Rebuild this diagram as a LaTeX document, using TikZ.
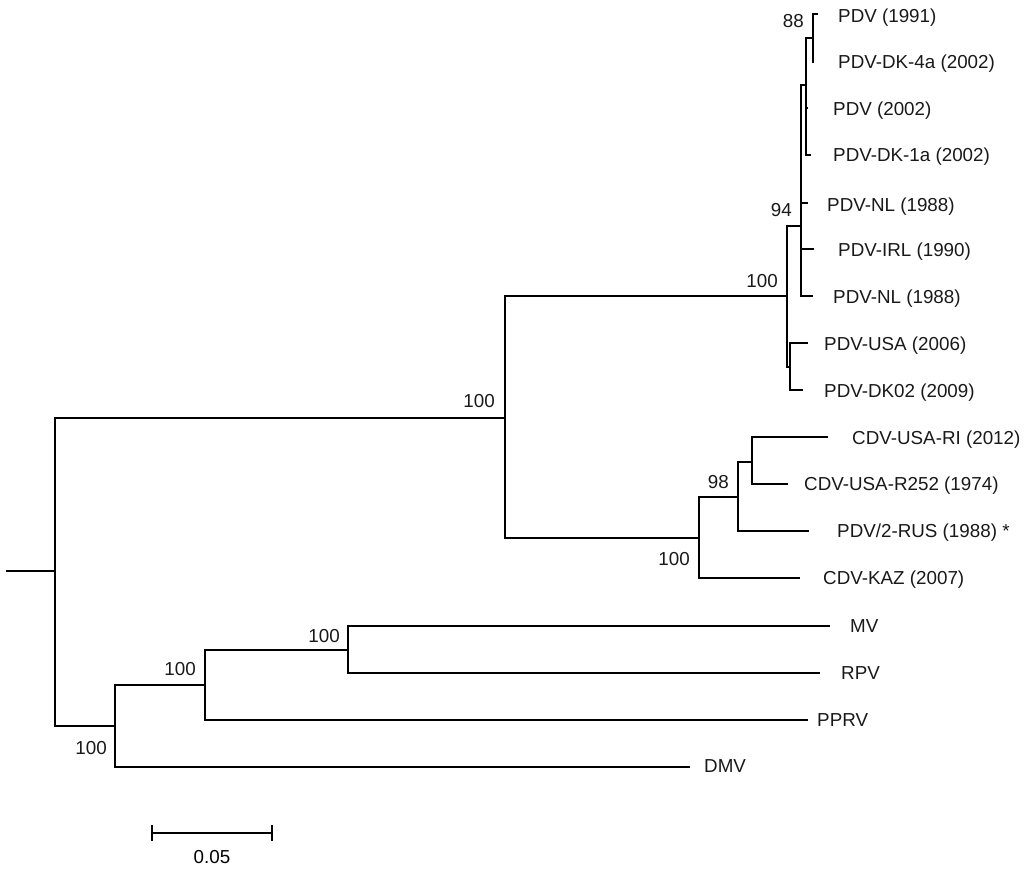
\documentclass[tikz,border=0pt]{standalone}
\usepackage{fontspec}
\setmainfont{Liberation Sans}
\begin{document}
\begin{tikzpicture}[x=1pt,y=-1pt,
  br/.style={line width=2.1pt, line join=miter, line cap=rect},
  tiplab/.style={anchor=base west, inner sep=0pt, font=\fontsize{18.8}{22}\selectfont, text=black!90},
  boot/.style={anchor=base east, inner sep=0pt, font=\fontsize{18.8}{22}\selectfont, text=black!90}]
\useasboundingbox (0,0) rectangle (1024,872);
% internal nodes
\coordinate (r0) at (7,571);
\coordinate (R) at (55,571);
\coordinate (U) at (505,418);
\coordinate (P100) at (787,296);
\coordinate (P94) at (801,226);
\coordinate (S) at (806,85);
\coordinate (P88) at (813,38);
\coordinate (PU) at (790,367);
\coordinate (C100) at (699,538);
\coordinate (C98) at (738,497);
\coordinate (CN) at (752,462);
\coordinate (M1) at (115,726);
\coordinate (M2) at (205,685);
\coordinate (M3) at (348,650);
% tips
\coordinate (t1) at (817,14);
\coordinate (t2) at (813,62);
\coordinate (t3) at (807,108);
\coordinate (t4) at (810,155);
\coordinate (t5) at (807,203);
\coordinate (t6) at (813,249);
\coordinate (t7) at (812,296);
\coordinate (t8) at (807,343);
\coordinate (t9) at (802,390);
\coordinate (t10) at (827,437);
\coordinate (t11) at (787,484);
\coordinate (t12) at (808,531);
\coordinate (t13) at (799,578);
\coordinate (t14) at (829,626);
\coordinate (t15) at (819,673);
\coordinate (t16) at (807,720);
\coordinate (t17) at (689,767);
% branches
\draw[br] (r0) -- (R);
\draw[br] (R) |- (U);
\draw[br] (R) |- (M1);
\draw[br] (U) |- (P100);
\draw[br] (U) |- (C100);
\draw[br] (P100) |- (P94);
\draw[br] (P100) |- (PU);
\draw[br] (P94) |- (S);
\draw[br] (P94) |- (t5);
\draw[br] (P94) |- (t6);
\draw[br] (P94) |- (t7);
\draw[br] (S) |- (P88);
\draw[br] (S) |- (t3);
\draw[br] (S) |- (t4);
\draw[br] (P88) |- (t1);
\draw[br] (P88) |- (t2);
\draw[br] (PU) |- (t8);
\draw[br] (PU) |- (t9);
\draw[br] (C100) |- (C98);
\draw[br] (C100) |- (t13);
\draw[br] (C98) |- (CN);
\draw[br] (C98) |- (t12);
\draw[br] (CN) |- (t10);
\draw[br] (CN) |- (t11);
\draw[br] (M1) |- (M2);
\draw[br] (M1) |- (t17);
\draw[br] (M2) |- (M3);
\draw[br] (M2) |- (t16);
\draw[br] (M3) |- (t14);
\draw[br] (M3) |- (t15);
% tip labels
\node[tiplab] (l1) at (838,23) {PDV (1991)};
\node[tiplab] (l2) at (838,69) {PDV-DK-4a (2002)};
\node[tiplab] (l3) at (833,116) {PDV (2002)};
\node[tiplab] (l4) at (833,161) {PDV-DK-1a (2002)};
\node[tiplab] (l5) at (827,211) {PDV-NL (1988)};
\node[tiplab] (l6) at (838,256) {PDV-IRL (1990)};
\node[tiplab] (l7) at (833,303) {PDV-NL (1988)};
\node[tiplab] (l8) at (824,350) {PDV-USA (2006)};
\node[tiplab] (l9) at (824,397) {PDV-DK02 (2009)};
\node[tiplab] (l10) at (852,444) {CDV-USA-RI (2012)};
\node[tiplab] (l11) at (804,490) {CDV-USA-R252 (1974)};
\node[tiplab] (l12) at (837,537) {PDV/2-RUS (1988) *};
\node[tiplab] (l13) at (823,584) {CDV-KAZ (2007)};
\node[tiplab] (l14) at (850,632) {MV};
\node[tiplab] (l15) at (841,679) {RPV};
\node[tiplab] (l16) at (817,726) {PPRV};
\node[tiplab] (l17) at (704,772) {DMV};
% bootstrap values
\node[boot] (b88) at (804,28) {88};
\node[boot] (b94) at (792,216) {94};
\node[boot] (b100a) at (778,287) {100};
\node[boot] (b100b) at (495,407) {100};
\node[boot] (b98) at (729,488) {98};
\node[boot] (b100c) at (690,565) {100};
\node[boot] (b100d) at (340,642) {100};
\node[boot] (b100e) at (196,675) {100};
\node[boot] (b100f) at (107,754) {100};
% scale bar
\coordinate (s0) at (152,833);
\coordinate (s1) at (272,833);
\draw[br, line cap=butt] (s0) -- (s1);
\draw[br, line cap=butt] ([yshift=8]s0) -- ([yshift=-8]s0);
\draw[br, line cap=butt] ([yshift=8]s1) -- ([yshift=-8]s1);
\node[anchor=base, inner sep=0pt, font=\fontsize{18.8}{22}\selectfont] (sl) at (212,863) {0.05};
\end{tikzpicture}
\end{document}
